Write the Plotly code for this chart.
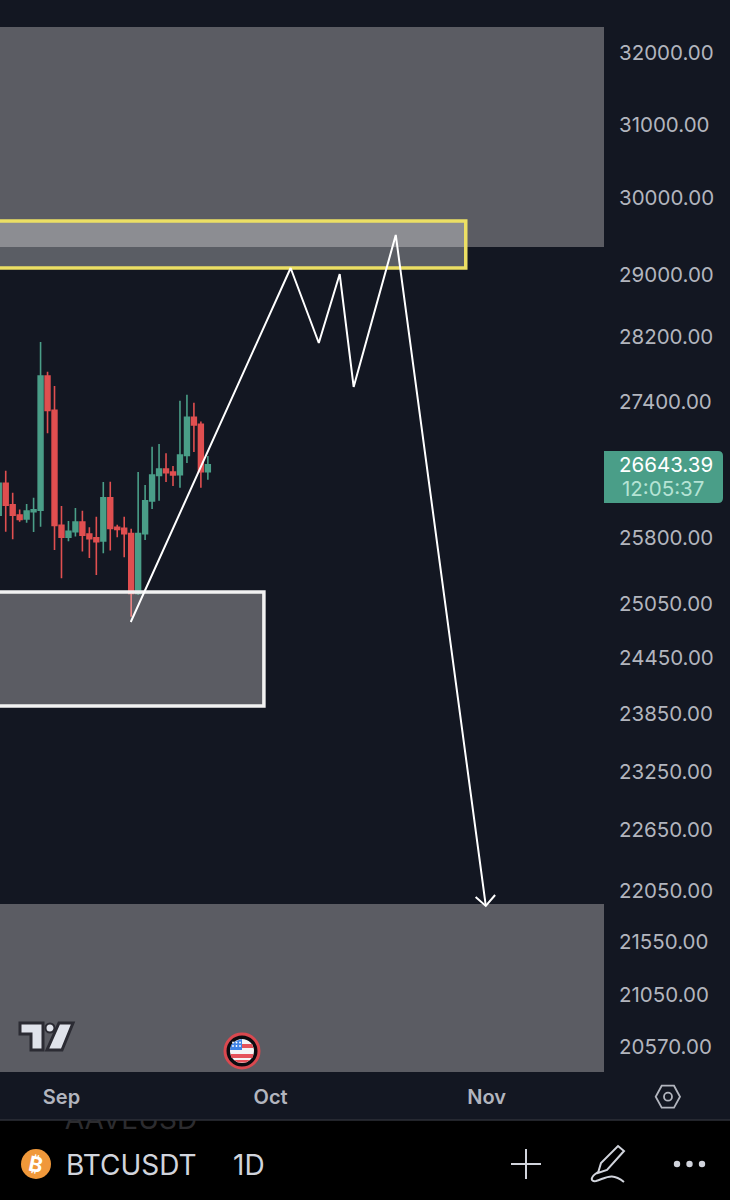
import plotly.graph_objects as go

W = 730
H = 1200

# daily candles
dates = ["2023-08-23", "2023-08-24", "2023-08-25", "2023-08-26", "2023-08-27", "2023-08-28",
         "2023-08-29", "2023-08-30", "2023-08-31", "2023-09-01", "2023-09-02", "2023-09-03",
         "2023-09-04", "2023-09-05", "2023-09-06", "2023-09-07", "2023-09-08", "2023-09-09",
         "2023-09-10", "2023-09-11", "2023-09-12", "2023-09-13", "2023-09-14", "2023-09-15",
         "2023-09-16", "2023-09-17", "2023-09-18", "2023-09-19", "2023-09-20", "2023-09-21",
         "2023-09-22"]
opens = [26045, 26415, 26165, 26045, 25999, 26084, 26103, 27707, 27287, 25926, 25789,
         25854, 25964, 25827, 25782, 25747, 26247, 25904, 25892, 25831, 25154, 25831,
         26208, 26509, 26584, 26549, 26517, 26746, 27203, 27117, 26553]
highs = [26493, 26564, 26304, 26111, 26173, 26247, 28128, 27760, 27584, 26150, 25976,
         26126, 26095, 25904, 26026, 26430, 26434, 25934, 26026, 25888, 26549, 26395,
         26850, 26882, 26770, 26619, 27404, 27477, 27380, 27151, 26738]
lows = [25987, 25854, 25766, 25968, 25957, 25850, 25911, 27009, 25645, 25323, 25743,
        25797, 25626, 25554, 25360, 25607, 25637, 25789, 25562, 24895, 25140, 25759,
        26115, 26212, 26430, 26383, 26363, 26655, 26786, 26363, 26458]
closes = [26415, 26161, 26045, 25995, 26091, 26107, 27707, 27287, 25926, 25789, 25858,
          25964, 25812, 25774, 25740, 26247, 25892, 25880, 25831, 25154, 25831, 26212,
          26513, 26584, 26541, 26513, 26750, 27203, 27109, 26553, 26635]

# drawn path and arrow head
path_dates = ["2023-09-10 22:30", "2023-10-03 21:00", "2023-10-07 22:00", "2023-10-10 22:00",
              "2023-10-12 22:00", "2023-10-18 23:00", "2023-10-31 21:00"]
path_prices = [24836, 29070, 28116, 28992, 27572, 29500, 21890]
head_dates = ["2023-10-30 10:00", "2023-10-31 21:00", "2023-11-02 05:00"]
head_prices = [21977, 21890, 21997]

# zones
x_start = "2023-08-10"
x_end = "2023-11-17 20:00"
y_top = 32358
y_bottom = 20332
upper_zone = [29342, y_top]
yellow_zone = [29070, 29684]
yellow_end = "2023-10-29 00:00"
white_zone = [23925, 25169]
white_end = "2023-09-30 01:00"
lower_zone = [y_bottom, 21910]

y_ticks = [32000, 31000, 30000, 29000, 28200, 27400, 25800, 25050, 24450, 23850, 23250,
           22650, 22050, 21550, 21050, 20570]
x_ticks = ["2023-09-01", "2023-10-01", "2023-11-01"]
x_labels = ["Sep", "Oct", "Nov"]

BG = "#131722"
UP = "#4a9e88"
DOWN = "#e04f50"
TEXT = "#b2b5be"
FONT = "Inter"


def px(x):
    return x / W


def py(y):
    return 1 - y / H


def poly(points, close=True):
    d = "M " + " L ".join(f"{px(x):.5f},{py(y):.5f}" for x, y in points)
    return d + " Z" if close else d


def rect_trace(x0, x1, y0, y1, fill, line=None):
    return go.Scatter(x=[x0, x1, x1, x0, x0], y=[y0, y0, y1, y1, y0], mode="lines", fill="toself",
                      fillcolor=fill, line=dict(color=line or "rgba(0,0,0,0)", width=3.5 if line else 0),
                      hoverinfo="skip", showlegend=False)


def circle(cx, cy, r, fill, line=None, width=0):
    return dict(type="circle", xref="paper", yref="paper", x0=px(cx - r), x1=px(cx + r),
                y0=py(cy + r), y1=py(cy - r), fillcolor=fill,
                line=dict(color=line or "rgba(0,0,0,0)", width=width))


def shape(points, fill="rgba(0,0,0,0)", line=None, width=0, close=True):
    return dict(type="path", xref="paper", yref="paper", path=poly(points, close), fillcolor=fill,
                line=dict(color=line or "rgba(0,0,0,0)", width=width))


fig = go.Figure()
fig.add_trace(go.Candlestick(x=dates, open=opens, high=highs, low=lows, close=closes,
                             increasing=dict(line=dict(color=UP, width=1.6), fillcolor=UP),
                             decreasing=dict(line=dict(color=DOWN, width=1.6), fillcolor=DOWN),
                             whiskerwidth=0, hoverinfo="skip", showlegend=False))
zone_fill = "rgba(255,251,250,0.305)"
fig.add_trace(rect_trace(x_start, x_end, upper_zone[0], upper_zone[1], zone_fill))
fig.add_trace(rect_trace(x_start, x_end, lower_zone[0], lower_zone[1], zone_fill))
fig.add_trace(rect_trace(x_start, white_end, white_zone[0], white_zone[1], zone_fill, "#f2f2f2"))
fig.add_trace(rect_trace(x_start, yellow_end, yellow_zone[0], yellow_zone[1],
                         "rgba(255,255,255,0.3)", "#ecdf64"))
fig.add_trace(go.Scatter(x=path_dates, y=path_prices, mode="lines", line=dict(color="white", width=2),
                         hoverinfo="skip", showlegend=False))
fig.add_trace(go.Scatter(x=head_dates, y=head_prices, mode="lines", line=dict(color="white", width=2),
                         hoverinfo="skip", showlegend=False))

# symbol names scrolled under the pane, clipped by the lower axes
fig.add_trace(go.Scatter(x=[131, 131], y=[1122, 1214], text=["AAVEUSD", "THETAUSD"], mode="text",
                         textfont=dict(family=FONT, size=28, color="#2c2c2f"), cliponaxis=True,
                         xaxis="x2", yaxis="y2", hoverinfo="skip", showlegend=False))

label_box = (f"M {px(604)},{py(451)} L {px(718)},{py(451)} Q {px(723)},{py(451)} {px(723)},{py(456)} "
             f"L {px(723)},{py(498)} Q {px(723)},{py(503)} {px(718)},{py(503)} L {px(604)},{py(503)} Z")

shapes = [
    # price label
    dict(type="path", xref="paper", yref="paper", path=label_box, fillcolor=UP, line_width=0),
    # logo
    shape([(20, 1023), (43, 1023), (43, 1050), (31, 1050), (31, 1034), (20, 1034)],
          fill="#e0e3eb", line="#2b2b33", width=3),
    shape([(59, 1023), (73, 1023), (62, 1050), (47, 1050)], fill="#e0e3eb", line="#2b2b33", width=3),
    circle(50, 1028, 4.5, "#e0e3eb", "#2b2b33", 2),
    # flag
    circle(242, 1051, 17, "#0b0b10", "#d9484f", 3),
    circle(242, 1051, 12, "#f4f4f4"),
    shape([(242, 1044), (252, 1044), (253.5, 1048), (242, 1048)], fill="#e5525a"),
    shape([(230.5, 1054), (253.5, 1054), (252.5, 1058), (231.5, 1058)], fill="#e5525a"),
    shape([(234, 1060), (250, 1060), (246, 1062.5), (238, 1062.5)], fill="#e5525a"),
    shape([(242, 1039), (242, 1050), (230, 1050), (231, 1045), (236, 1041)], fill="#3f83e6"),
    # settings icon
    shape([(655.7, 1096.7), (661.7, 1085.7), (674, 1085.7), (680, 1096.7), (674, 1107.7), (661.7, 1107.7)],
          line=TEXT, width=1.8),
    circle(668, 1096.7, 4, "rgba(0,0,0,0)", TEXT, 1.8),
    # toolbar
    circle(36, 1164, 15, "#f0983a"),
    shape([(511, 1164), (541, 1164)], line="#d1d4dc", width=2, close=False),
    shape([(526, 1149), (526, 1179)], line="#d1d4dc", width=2, close=False),
    shape([(618, 1146), (624, 1151), (607, 1170), (598, 1173), (601, 1163)], line="#d1d4dc", width=2),
    dict(type="path", xref="paper", yref="paper", line=dict(color="#d1d4dc", width=2),
         path=f"M {px(598)},{py(1172)} C {px(590)},{py(1177)} {px(590)},{py(1182)} {px(596)},{py(1181)} "
              f"C {px(606)},{py(1178)} {px(612)},{py(1172)} {px(624)},{py(1182)}"),
    circle(677, 1164, 3.2, "#d1d4dc"),
    circle(689.5, 1164, 3.2, "#d1d4dc"),
    circle(702, 1164, 3.2, "#d1d4dc"),
]
for fy in (1042.5, 1046):
    for fx in (233, 236.5, 240):
        shapes.append(circle(fx, fy, 0.9, "#ffffff"))


def label(x, y, text, size, color, weight=400, angle=0, anchor="center"):
    return dict(xref="paper", yref="paper", x=px(x), y=py(y), text=text, showarrow=False, xanchor=anchor,
                yanchor="middle", textangle=angle,
                font=dict(family=FONT, size=size, color=color, weight=weight))


annotations = [
    label(666, 465, "26643.39", 20.5, "#ffffff"),
    label(663, 489, "12:05:37", 20.5, "#b5e3d4"),
    label(36, 1164, "₿", 21, "#ffffff", 700, 12),
    label(131, 1165, "BTCUSDT", 28, "#d1d4dc"),
    label(249, 1165, "1D", 28, "#d1d4dc"),
]

fig.update_layout(
    width=W, height=H, margin=dict(l=0, r=0, t=0, b=0), paper_bgcolor=BG, plot_bgcolor=BG,
    showlegend=False, boxgap=0.02, shapes=shapes, annotations=annotations,
    xaxis=dict(domain=[0, 604 / W], anchor="y", range=["2023-08-23 04:19", x_end], type="date",
               rangeslider=dict(visible=False), showgrid=False, zeroline=False, showline=False, ticks="",
               tickmode="array", tickvals=x_ticks, ticktext=x_labels, ticklabelstandoff=11,
               tickfont=dict(family=FONT, size=20, color=TEXT, weight=600)),
    yaxis=dict(domain=[py(1072), py(27)], anchor="x", type="log", range=[4.30818, 4.50998], side="right",
               showgrid=False, zeroline=False, showline=False, ticks="", tickmode="array",
               tickvals=y_ticks, ticktext=[f"{v:.2f}" for v in y_ticks], ticklabelstandoff=14,
               ticklabelshift=1, tickfont=dict(family=FONT, size=20.5, color=TEXT)),
    xaxis2=dict(domain=[0, 1], anchor="y2", range=[0, W], visible=False),
    yaxis2=dict(domain=[0, py(1120)], anchor="x2", range=[H, 1120], visible=False),
)
# lower bar is black with a thin rule along its top
fig.add_shape(type="rect", xref="paper", yref="paper", x0=0, x1=1, y0=0, y1=py(1120), fillcolor="#000000",
              line_width=0, layer="below")
fig.add_shape(type="line", xref="paper", yref="paper", x0=0, x1=1, y0=py(1120), y1=py(1120),
              line=dict(color="#2e3039", width=1.5))

fig.write_html("out.html", config=dict(displayModeBar=False),
               post_script="document.body.style.margin='0';")
